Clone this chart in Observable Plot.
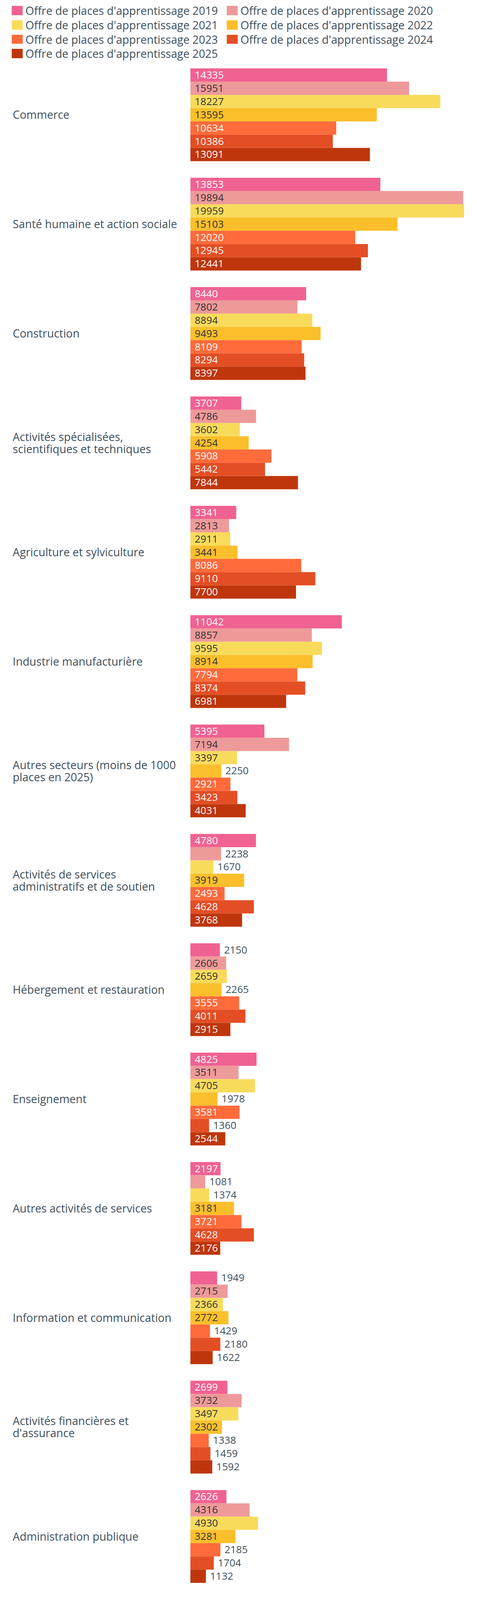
<!DOCTYPE html>
<html><head><meta charset="utf-8">
<script src="https://cdn.jsdelivr.net/npm/d3@7"></script>
<script src="https://cdn.jsdelivr.net/npm/@observablehq/plot@0.6"></script>
<style>
html,body{margin:0;padding:0;background:#fff;font-family:"Open Sans",sans-serif;overflow:hidden;}
#legend{position:relative;width:1220px;}
#chart{width:1220px;}
#chart svg{display:block;}
.item{position:absolute;display:flex;align-items:center;font-size:28.5px;color:#3e4f5c;white-space:nowrap;}
.sw{width:28px;margin-right:7px;flex:none;}
</style></head><body>
<div id="legend"></div><div id="chart"></div>
<script>
const categories = [
  "Commerce",
  "Santé humaine et action sociale",
  "Construction",
  "Activités spécialisées,\nscientifiques et techniques",
  "Agriculture et sylviculture",
  "Industrie manufacturière",
  "Autres secteurs (moins de 1000\nplaces en 2025)",
  "Activités de services\nadministratifs et de soutien",
  "Hébergement et restauration",
  "Enseignement",
  "Autres activités de services",
  "Information et communication",
  "Activités financières et\nd'assurance",
  "Administration publique"
];
const series = [
  "Offre de places d'apprentissage 2019",
  "Offre de places d'apprentissage 2020",
  "Offre de places d'apprentissage 2021",
  "Offre de places d'apprentissage 2022",
  "Offre de places d'apprentissage 2023",
  "Offre de places d'apprentissage 2024",
  "Offre de places d'apprentissage 2025"
];
const colors = ["#f06292", "#ee9a9a", "#f9db5c", "#fbbf2b", "#ff6b3a", "#e44e24", "#bf360c"];

const v2019 = [14335, 13853, 8440, 3707, 3341, 11042, 5395, 4780, 2150, 4825, 2197, 1949, 2699, 2626];
const v2020 = [15951, 19894, 7802, 4786, 2813, 8857, 7194, 2238, 2606, 3511, 1081, 2715, 3732, 4316];
const v2021 = [18227, 19959, 8894, 3602, 2911, 9595, 3397, 1670, 2659, 4705, 1374, 2366, 3497, 4930];
const v2022 = [13595, 15103, 9493, 4254, 3441, 8914, 2250, 3919, 2265, 1978, 3181, 2772, 2302, 3281];
const v2023 = [10634, 12020, 8109, 5908, 8086, 7794, 2921, 2493, 3555, 3581, 3721, 1429, 1338, 2185];
const v2024 = [10386, 12945, 8294, 5442, 9110, 8374, 3423, 4628, 4011, 1360, 4628, 2180, 1459, 1704];
const v2025 = [13091, 12441, 8397, 7844, 7700, 6981, 4031, 3768, 2915, 2544, 2176, 1622, 1592, 1132];
const seriesValues = [v2019, v2020, v2021, v2022, v2023, v2024, v2025];

// the page is laid out for 1220x4828; if the window is shorter, the vertical layout is compressed to fit
const FULL_H = 4828;
const sy = Math.min(1, (window.innerHeight || FULL_H) / FULL_H);

// legend
const legend = document.getElementById("legend");
legend.style.height = (180 * sy) + "px";
series.forEach((s, j) => {
  const it = document.createElement("div");
  it.className = "item";
  it.style.left = (j % 2 === 0 ? 30 : 580) + "px";
  it.style.top = ((18 + Math.floor(j / 2) * 43.3) * sy) + "px";
  it.style.height = (28 * sy) + "px";
  const sw = document.createElement("span");
  sw.className = "sw";
  sw.style.height = (28 * sy) + "px";
  sw.style.background = colors[j];
  const tx = document.createElement("span");
  tx.textContent = s;
  it.append(sw, tx);
  legend.append(it);
});

const data = [];
categories.forEach((c, i) => series.forEach((s, j) => data.push({category: c, series: s, value: seriesValues[j][i], color: colors[j]})));

const W = 1220, mL = 487, mR = 33;
const H = 4648 * sy, mT = 26 * sy, mB = 52 * sy;
document.getElementById("chart").style.height = H + "px";
const xMax = d3.max(data, d => d.value);
const k = (W - mL - mR) / xMax;
// approximate glyph widths of the label font, to decide if a label fits inside its bar
const glyph = {"1": 12, "7": 12, "3": 14};
const labelW = v => String(v).split("").reduce((a, c) => a + (glyph[c] ?? 15), 0);
const fits = d => labelW(d.value) + 21 <= d.value * k;
const inside = data.filter(fits);
const outside = data.filter(d => !fits(d));
const darkText = c => d3.lab(c).l > 70;

const chart = Plot.plot({
  width: W, height: H,
  marginLeft: mL, marginRight: mR, marginTop: mT, marginBottom: mB,
  style: {fontFamily: "'Open Sans', sans-serif", background: "#fff"},
  fy: {domain: categories, paddingInner: 50 / 330, paddingOuter: 0, axis: null, round: false},
  y: {domain: series, padding: 0, axis: null, round: false},
  x: {domain: [0, xMax], axis: null},
  color: {domain: series, range: colors},
  marks: [
    Plot.barX(data, {x: "value", y: "series", fy: "category", fill: "series"}),
    Plot.text(inside, {x: d => 0, y: "series", fy: "category", text: d => String(d.value),
      textAnchor: "start", dx: 10.5, fontSize: 26, fill: d => darkText(d.color) ? "#333333" : "#ffffff"}),
    Plot.text(outside, {x: "value", y: "series", fy: "category", text: d => String(d.value),
      textAnchor: "start", dx: 10, fontSize: 26, fill: "#3e4f5c"}),
    Plot.text(categories, {fy: d => d, text: d => d, frameAnchor: "left", textAnchor: "start",
      dx: 32 - mL, fontSize: 28.5, lineHeight: Math.max(31, 35 * sy) / 28.5, fill: "#3e4f5c"})
  ]
});
document.getElementById("chart").append(chart);
</script>
</body></html>
